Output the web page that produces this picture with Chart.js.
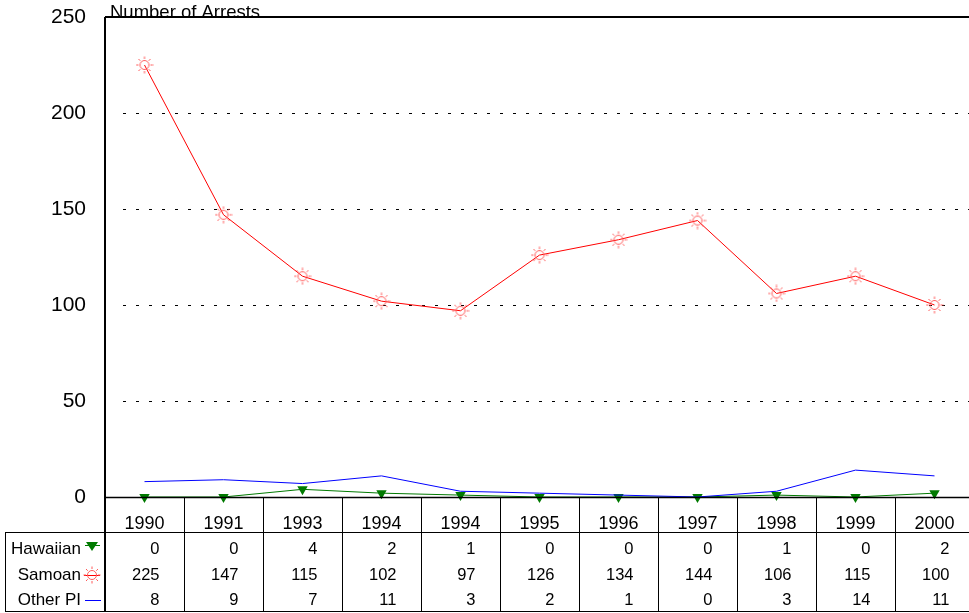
<!DOCTYPE html>
<html>
<head>
<meta charset="utf-8">
<script src="https://cdn.jsdelivr.net/npm/chart.js@4"></script>
<style>
  html, body { margin: 0; padding: 0; background: #fff; overflow: hidden; }
  #wrap { width: 969px; height: 613px; overflow: hidden; }
</style>
</head>
<body>
<div id="wrap"><canvas id="arrests" width="974" height="613"></canvas></div>
<script>
// chart data
const years = ['1990', '1991', '1993', '1994', '1994', '1995', '1996', '1997', '1998', '1999', '2000'];
const hawaiian = [0, 0, 4, 2, 1, 0, 0, 0, 1, 0, 2];
const samoan = [225, 147, 115, 102, 97, 126, 134, 144, 106, 115, 100];
const otherPI = [8, 9, 7, 11, 3, 2, 1, 0, 3, 14, 11];
const yTicks = [0, 50, 100, 150, 200, 250];

const FONT = '"Liberation Sans", Arial, sans-serif';

// sun-like marker for Samoan
function sunMarker() {
  const c = document.createElement('canvas');
  c.width = 18; c.height = 18;
  const g = c.getContext('2d');
  g.strokeStyle = '#ff5a5a';
  g.lineWidth = 1;
  g.beginPath();
  g.arc(9, 9, 4.5, 0, Math.PI * 2);
  g.stroke();
  for (let i = 0; i < 8; i++) {
    const a = i * Math.PI / 4;
    g.beginPath();
    g.moveTo(9 + Math.cos(a) * 6, 9 + Math.sin(a) * 6);
    g.lineTo(9 + Math.cos(a) * 8.5, 9 + Math.sin(a) * 8.5);
    g.stroke();
  }
  return c;
}
const sun = sunMarker();

const tablePlugin = {
  id: 'tablePlugin',
  beforeDatasetsDraw(chart) {
    const { ctx, chartArea: a, scales: { y } } = chart;
    ctx.save();
    // dotted grid lines
    ctx.strokeStyle = '#000';
    ctx.lineWidth = 1;
    ctx.setLineDash([3, 10]);
    yTicks.forEach(v => {
      if (v === 0 || v === 250) return;
      const py = Math.round(y.getPixelForValue(v)) + 0.5;
      ctx.beginPath();
      ctx.moveTo(a.left + 18, py);
      ctx.lineTo(a.right, py);
      ctx.stroke();
    });
    ctx.restore();
  },
  afterDraw(chart) {
    const { ctx, chartArea: a, scales: { x } } = chart;
    const px = years.map((_, i) => x.getPixelForValue(i));
    const half = (px[1] - px[0]) / 2;
    const rowTop = 532, rowBottom = 611;
    ctx.save();
    ctx.strokeStyle = '#000';
    // frame
    ctx.lineWidth = 2;
    ctx.beginPath();
    ctx.moveTo(a.left, a.top); ctx.lineTo(a.right + 10, a.top);
    ctx.moveTo(a.left, a.top); ctx.lineTo(a.left, rowBottom + 1);
    ctx.stroke();
    ctx.lineWidth = 1.5;
    ctx.beginPath();
    ctx.moveTo(a.left, a.bottom + 0.5); ctx.lineTo(a.right + 10, a.bottom + 0.5);
    ctx.stroke();
    ctx.lineWidth = 1;
    ctx.beginPath();
    ctx.moveTo(5, rowTop + 0.5); ctx.lineTo(a.right + 10, rowTop + 0.5);
    ctx.moveTo(5, rowBottom + 0.5); ctx.lineTo(a.right + 10, rowBottom + 0.5);
    ctx.moveTo(5.5, rowTop); ctx.lineTo(5.5, rowBottom);
    for (let i = 1; i < years.length; i++) {
      const bx = Math.round(px[i] - half) + 0.5;
      ctx.moveTo(bx, a.bottom); ctx.lineTo(bx, rowBottom);
    }
    ctx.stroke();

    // category labels
    ctx.fillStyle = '#000';
    ctx.font = '18px ' + FONT;
    ctx.textAlign = 'center';
    ctx.textBaseline = 'middle';
    years.forEach((yr, i) => ctx.fillText(yr, px[i], 524));

    // values
    const rows = [[hawaiian, 549], [samoan, 575], [otherPI, 600]];
    ctx.font = '16.5px ' + FONT;
    ctx.textAlign = 'right';
    rows.forEach(([vals, ry]) => {
      vals.forEach((v, i) => ctx.fillText(String(v), px[i] + 15, ry));
    });

    // row headers with legend keys
    ctx.font = '17px ' + FONT;
    ctx.fillText('Hawaiian', 81, 549);
    ctx.fillText('Samoan', 81, 575);
    ctx.fillText('Other PI', 81, 600);
    // green triangle
    ctx.fillStyle = '#007a00';
    ctx.strokeStyle = '#007a00';
    ctx.beginPath();
    ctx.moveTo(85, 545.5); ctx.lineTo(100, 545.5); ctx.stroke();
    ctx.beginPath();
    ctx.moveTo(86, 542); ctx.lineTo(98, 542); ctx.lineTo(92, 551); ctx.closePath();
    ctx.fill();
    // red sun
    ctx.strokeStyle = '#ff0000';
    ctx.beginPath();
    ctx.moveTo(84, 575.5); ctx.lineTo(100, 575.5); ctx.stroke();
    ctx.drawImage(sun, 83, 566);
    // blue line
    ctx.strokeStyle = '#0000ff';
    ctx.beginPath();
    ctx.moveTo(85, 600.5); ctx.lineTo(101, 600.5); ctx.stroke();

    // axis title
    ctx.fillStyle = '#000';
    ctx.font = '18.5px ' + FONT;
    ctx.textAlign = 'left';
    ctx.textBaseline = 'alphabetic';
    ctx.fillText('Number of Arrests', 110, 18);
    ctx.restore();
  }
};

new Chart(document.getElementById('arrests'), {
  type: 'line',
  data: {
    labels: years,
    datasets: [
      {
        label: 'Other PI',
        data: otherPI,
        borderColor: '#0000ff',
        borderWidth: 1,
        pointRadius: 0,
        tension: 0
      },
      {
        label: 'Hawaiian',
        data: hawaiian,
        borderColor: '#007a00',
        backgroundColor: '#007a00',
        borderWidth: 1,
        pointStyle: 'triangle',
        rotation: 180,
        pointRadius: 6,
        pointBorderWidth: 0,
        tension: 0
      },
      {
        label: 'Samoan',
        data: samoan,
        borderColor: '#ff0000',
        borderWidth: 1,
        pointStyle: sun,
        tension: 0
      }
    ]
  },
  options: {
    responsive: false,
    animation: false,
    clip: false,
    layout: { autoPadding: false, padding: { top: 17, bottom: 116, left: 0, right: 0 } },
    plugins: { legend: { display: false }, tooltip: { enabled: false } },
    scales: {
      x: {
        display: false,
        offset: true
      },
      y: {
        min: 0,
        max: 250,
        afterFit(scale) {
          scale.width = 105;
          scale.paddingTop = 0;
          scale.paddingBottom = 0;
        },
        afterBuildTicks(scale) { scale.ticks = yTicks.map(v => ({ value: v })); },
        grid: { display: false },
        border: { display: false },
        ticks: {
          color: '#000',
          padding: 11,
          font: { family: FONT, size: 21 }
        }
      }
    }
  },
  plugins: [tablePlugin]
});
</script>
</body>
</html>
